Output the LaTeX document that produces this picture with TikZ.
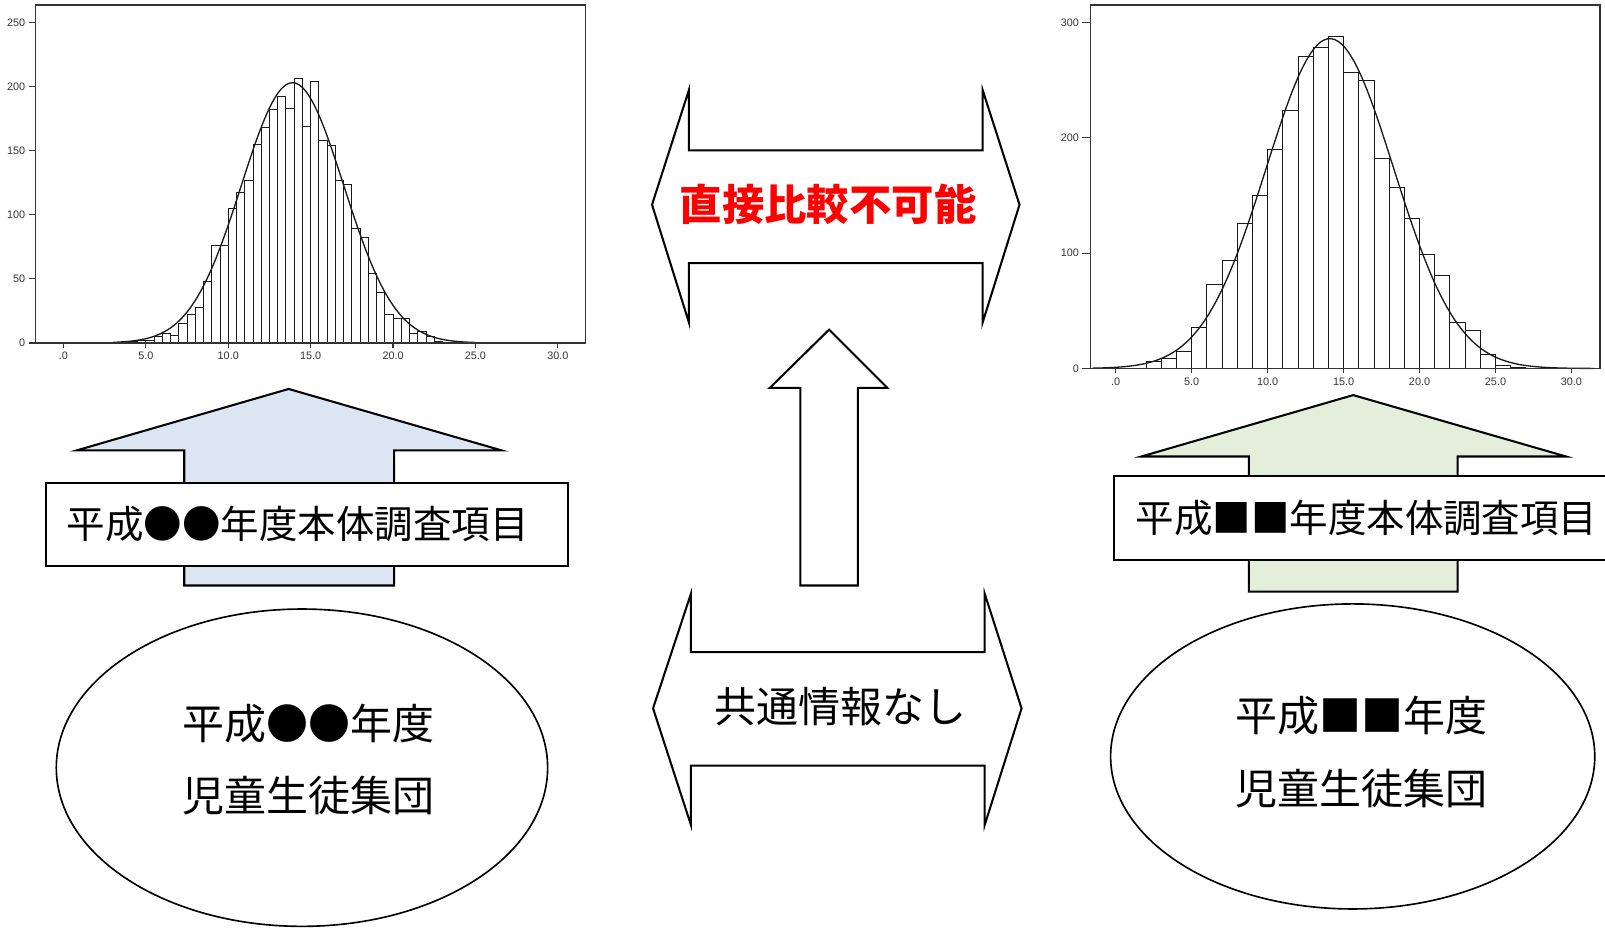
\documentclass[tikz,border=0pt]{standalone}
\usepackage{fontspec}
\setmainfont{Noto Sans CJK JP}
\newfontfamily\axisfont{Liberation Sans}
\usetikzlibrary{shapes.geometric}
\definecolor{lblue}{HTML}{DCE6F2}
\definecolor{lgreen}{HTML}{E3EFDA}
\definecolor{axisgray}{HTML}{333333}
\begin{document}
\begin{tikzpicture}[x=0.5pt,y=-0.5pt,
  blockarrow/.style={draw=black, line width=1pt, line join=miter},
  labelbox/.style={draw=black, line width=0.9pt, fill=white},
  boxtext/.style={inner sep=0pt, font=\fontsize{18.8}{22}\selectfont},
  poptext/.style={inner sep=0pt, align=center, font=\fontsize{20.5}{35.5}\selectfont},
  popell/.style={ellipse, draw=black, line width=0.8pt, inner sep=0pt},
  bar/.style={draw=black!90, line width=0.45pt},
  curve/.style={draw=black!90, line width=0.65pt},
  frame/.style={draw=black!80, line width=0.6pt},
  axlab/.style={inner sep=0pt, text=axisgray, font=\axisfont\fontsize{5.3}{5.5}\selectfont}]
\useasboundingbox (0,0) rectangle (1568,908);

% ---------- left histogram ----------
\begin{scope}[shift={(62,335)}, x=8.05pt, y=0.626pt]
  \foreach \h [count=\i from 0] in {1,1,2,2,5,7,6,15,22,28,48,76,76,105,117,127,155,168,182,192,183,206,169,204,158,154,127,124,89,82,54,39,22,19,19,7,9,5,1}
    \draw[bar] ({3.5+0.5*\i},0) rectangle ({4+0.5*\i},\h);
  \draw[curve] plot[domain=3:25, samples=120, smooth] (\x,{203*exp(-((\x-13.9)^2)/(2*3.1*3.1))});
  \foreach \v/\t in {0/.0,5/5.0,10/10.0,15/15.0,20/20.0,25/25.0,30/30.0} {
    \draw[frame] (\v,0) -- (\v,-4);
    \node[axlab, anchor=north] (lx\v) at (\v,-7) {\t};
  }
  \foreach \c in {0,50,100,150,200,250} {
    \draw[frame] (-1.68,\c) -- (-2.1,\c);
    \node[axlab, anchor=east] (ly\c) at (-2.3,\c) {\c};
  }
\end{scope}
\draw[frame] (35,5) rectangle (572,335);

% ---------- right histogram ----------
\begin{scope}[shift={(1090,360)}, x=7.42pt, y=0.5633pt]
  \foreach \h [count=\i from 0] in {6,9,15,36,73,94,126,150,190,224,271,278,288,257,250,182,157,130,99,81,40,33,12,3,1}
    \draw[bar] ({2+\i},0) rectangle ({3+\i},\h);
  \draw[curve] plot[domain=-1.5:31.5, samples=140, smooth] (\x,{286*exp(-((\x-14.1)^2)/(2*4.2*4.2))});
  \foreach \v/\t in {0/.0,5/5.0,10/10.0,15/15.0,20/20.0,25/25.0,30/30.0} {
    \draw[frame] (\v,0) -- (\v,-4);
    \node[axlab, anchor=north] (rx\v) at (\v,-8) {\t};
  }
  \foreach \c in {0,100,200,300} {
    \draw[frame] (-1.68,\c) -- (-2.2,\c);
    \node[axlab, anchor=east] (ry\c) at (-2.4,\c) {\c};
  }
\end{scope}
\draw[frame] (1065,5) rectangle (1563,360);

% ---------- left up arrow and box ----------
\draw[blockarrow, fill=lblue] (282,380) -- (490,440) -- (385,440) -- (385,572) -- (180,572) -- (180,440) -- (75,440) -- cycle;
\draw[labelbox] (45,472) rectangle (555,553);
\node[boxtext] (itemL) at (291,512) {平成●●年度本体調査項目};

% ---------- right up arrow and box ----------
\draw[blockarrow, fill=lgreen] (1322,386) -- (1530,446) -- (1424,446) -- (1424,578) -- (1220,578) -- (1220,446) -- (1115,446) -- cycle;
\fill[white] (1088,465) rectangle (1568,547);
\draw[line width=0.9pt] (1568,465) -- (1088,465) -- (1088,547) -- (1568,547);
\node[boxtext] (itemR) at (1335,506) {平成■■年度本体調査項目};

% ---------- centre double arrows ----------
\draw[blockarrow] (637,200) -- (673,88) -- (673,147) -- (960,147) -- (960,88) -- (996,200) -- (960,315) -- (960,257) -- (673,257) -- (673,315) -- cycle;
\node[inner sep=0pt, text=red, font=\fontsize{20.7}{24}\selectfont\bfseries] (nocomp) at (809,200) {直接比較不可能};

\draw[blockarrow] (638,692) -- (675,580) -- (675,637) -- (962,637) -- (962,580) -- (998,692) -- (962,806) -- (962,748) -- (675,748) -- (675,806) -- cycle;
\node[inner sep=0pt, font=\fontsize{20.5}{24}\selectfont] (nocommon) at (821,690) {共通情報なし};

% ---------- centre up arrow ----------
\draw[blockarrow] (810,322) -- (867,379) -- (838,379) -- (838,572) -- (782,572) -- (782,379) -- (752,379) -- cycle;

% ---------- populations ----------
\node[popell, minimum width=240pt, minimum height=155pt] (popL) at (295,750) {};
\node[poptext] (popLtxt) at (301,742) {平成●●年度\\児童生徒集団};
\node[popell, minimum width=236.5pt, minimum height=149pt] (popR) at (1321.5,739) {};
\node[poptext] (popRtxt) at (1330,735) {平成■■年度\\児童生徒集団};
\end{tikzpicture}
\end{document}
